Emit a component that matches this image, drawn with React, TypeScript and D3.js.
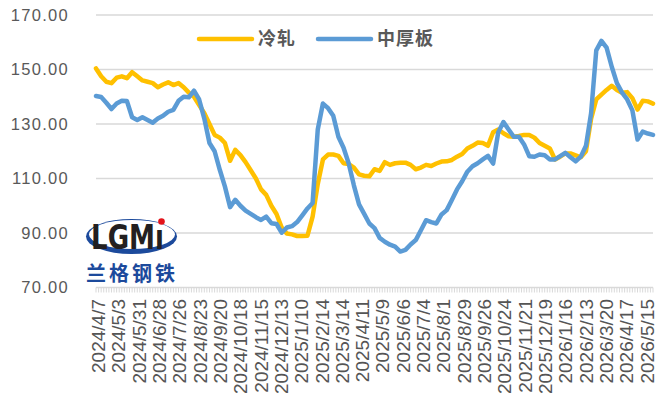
import React from "react";
import * as d3 from "d3";

const dateLabels = [
  "2024/4/7", "2024/5/3", "2024/5/31", "2024/6/28", "2024/7/26", "2024/8/23",
  "2024/9/20", "2024/10/18", "2024/11/15", "2024/12/13", "2025/1/10", "2025/2/14",
  "2025/3/14", "2025/4/11", "2025/5/9", "2025/6/6", "2025/7/4", "2025/8/1",
  "2025/8/29", "2025/9/26", "2025/10/24", "2025/11/21", "2025/12/19", "2026/1/16",
  "2026/2/13", "2026/3/20", "2026/4/17", "2026/5/15",
];

const coldRolled = [
  150.4, 147.5, 145.5, 145, 147, 147.5, 146.8, 149, 147.5, 146,
  145.5, 145, 143.5, 144.5, 145.3, 144.3, 145, 143.5, 141.5, 140,
  137, 134, 130, 126, 125, 123, 116.5, 120.5, 118.6, 116,
  113, 110, 106, 104, 100, 97, 92, 89.8, 89.5, 88.9,
  88.9, 89, 96, 108, 117, 118.8, 118.8, 118.3, 115.6, 115.3,
  114, 111.5, 111, 110.8, 113.4, 112.8, 116, 115, 115.6, 115.8,
  115.8, 115, 113.4, 114, 115, 114.6, 115.5, 116.2, 116.3, 116.8,
  118, 119, 121, 122, 123.2, 123, 122, 127, 128, 126.6,
  125.5, 125.3, 125.6, 126, 126, 125, 123, 122, 121, 117,
  118, 119.2, 119.2, 118.5, 117.8, 120, 132, 139, 140.8, 142.5,
  144, 142.5, 141.5, 141.7, 139.5, 135.3, 138.5, 138.3, 137.5,
];

const plate = [
  140.3, 139.9, 137.8, 135.5, 137.5, 138.5, 138.4, 132.5, 131.5, 132.5,
  131.5, 130.5, 132, 133, 134.5, 135.2, 138.5, 140, 139.8, 142.2,
  139, 132, 123, 120, 113.2, 107, 99.5, 102.2, 100, 98.2,
  97, 95.8, 94.8, 96, 93.6, 93.3, 90.1, 92, 92.5, 94,
  96.5, 99, 101, 128, 137.5, 135.8, 133, 125.3, 121.3, 115.5,
  107.5, 100.5, 97, 93.5, 91.8, 88.2, 86.8, 85.7, 85, 83.2,
  83.8, 85.8, 87.4, 91, 94.7, 94, 93.5, 96.8, 98.4, 102.1,
  106, 109, 112.5, 114.5, 115.6, 117, 118.3, 115.5, 127, 130.7,
  128, 125.3, 125.3, 122.5, 118.2, 118, 118.8, 118.5, 117, 117,
  118.2, 119.4, 117.8, 116.3, 118, 122, 134, 157, 160.5, 158,
  151, 145, 141.5, 139, 135, 124.3, 127.2, 126.5, 126,
];

const yTicks = [70, 90, 110, 130, 150, 170];
const seriesNames = ["冷轧", "中厚板"];
const seriesColors = ["#FFC000", "#5B9BD5"];

export default function App() {
  const W = 657;
  const H = 400;
  const left = 96;
  const right = 653;
  const top = 15;
  const bottom = 287.5;
  const n = coldRolled.length;

  const x = d3.scaleLinear().domain([0, n - 1]).range([left, right]);
  const xLab = d3
    .scaleLinear()
    .domain([0, dateLabels.length - 1])
    .range([98.3, 646.7]);
  const y = d3.scaleLinear().domain([70, 170]).range([bottom, top]);
  const line = d3
    .line<number>()
    .x((_, i) => x(i))
    .y((d) => y(d));

  const minorTicks = d3.range(0, n - 1 + 0.001, 0.5);
  const gray = "#595959";

  return (
    <svg
      width={W}
      height={H}
      style={{ position: "absolute", left: 0, top: 0, background: "#fff" }}
    >
      {yTicks.slice(1).map((t) => (
        <line
          key={t}
          x1={left}
          x2={right}
          y1={y(t)}
          y2={y(t)}
          stroke="#d9d9d9"
          strokeWidth={1.5}
        />
      ))}
      <line x1={left} x2={right} y1={y(70)} y2={y(70)} stroke="#d9d9d9" strokeWidth={1.5} />
      {minorTicks.map((t) => (
        <line
          key={t}
          x1={x(t)}
          x2={x(t)}
          y1={y(70)}
          y2={y(70) + 5}
          stroke="#d9d9d9"
          strokeWidth={1}
        />
      ))}
      {yTicks.map((t) => (
        <text
          key={t}
          x={69}
          y={y(t)}
          dy="0.36em"
          textAnchor="end"
          fontFamily="'Liberation Sans', Arial, sans-serif"
          fontSize={16.5}
          letterSpacing={1.3}
          fill={gray}
        >
          {t.toFixed(2)}
        </text>
      ))}
      {dateLabels.map((lab, k) => (
        <text
          key={lab}
          transform={`translate(${xLab(k)},${y(70) + 11.5}) rotate(-90)`}
          dy="0.36em"
          textAnchor="end"
          fontFamily="'Liberation Sans', Arial, sans-serif"
          fontSize={19}
          fill="#555"
        >
          {lab}
        </text>
      ))}
      {[coldRolled, plate].map((s, k) => (
        <path
          key={k}
          d={line(s) || ""}
          fill="none"
          stroke={seriesColors[k]}
          strokeWidth={4.5}
          strokeLinejoin="round"
          strokeLinecap="round"
        />
      ))}
      {seriesNames.map((name, k) => {
        const lx = k === 0 ? 199 : 318;
        return (
          <g key={name}>
            <line
              x1={lx}
              x2={lx + 53}
              y1={39}
              y2={39}
              stroke={seriesColors[k]}
              strokeWidth={4.5}
              strokeLinecap="round"
            />
            <text
              x={lx + 59}
              y={39}
              dy="0.36em"
              fontFamily="'Noto Sans CJK SC', sans-serif"
              fontWeight="bold"
              fontSize={18}
              letterSpacing={1}
              fill={gray}
            >
              {name}
            </text>
          </g>
        );
      })}
      <g>
        <ellipse cx={131.5} cy={236.5} rx={45.5} ry={17.5} fill="#1c4a9c" />
        <ellipse cx={132} cy={234.5} rx={43} ry={14.5} fill="#fff" />
        <text
          x={91}
          y={249}
          textLength={73}
          lengthAdjust="spacingAndGlyphs"
          fontFamily="'DejaVu Sans', sans-serif"
          fontWeight="bold"
          fontSize={33}
          fill="#231f20"
        >
          LGMı
        </text>
        <circle cx={161.5} cy={221.5} r={3.3} fill="#e3141b" />
        <text
          x={86}
          y={281}
          fontFamily="'Noto Sans CJK SC', sans-serif"
          fontWeight="bold"
          fontSize={20}
          letterSpacing={3}
          fill="#1c4a9c"
        >
          兰格钢铁
        </text>
      </g>
    </svg>
  );
}
